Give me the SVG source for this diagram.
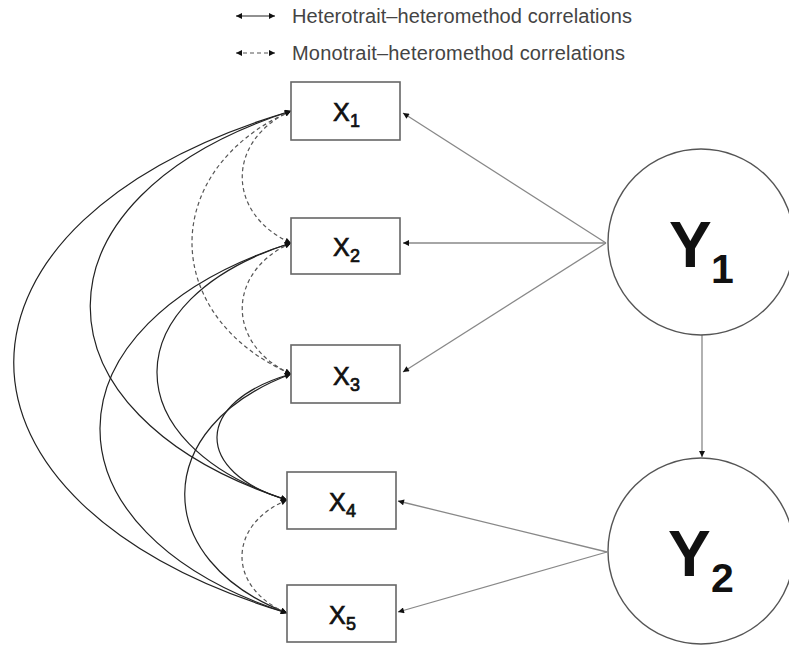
<svg xmlns="http://www.w3.org/2000/svg" width="789" height="646" viewBox="0 0 789 646">
<defs>
<marker id="ah" viewBox="0 0 10 10" refX="10" refY="5" markerWidth="8" markerHeight="6" markerUnits="userSpaceOnUse" orient="auto-start-reverse">
<path d="M0,0 L10,5 L0,10 z" fill="#111"/>
</marker>
<style>
.box{fill:#fff;stroke:#666;stroke-width:1.6}
.circ{fill:#fff;stroke:#555;stroke-width:1.4}
.lbl{font-family:"Liberation Sans",Arial,sans-serif;fill:#111;stroke:#111;stroke-width:0.7}
.big{font-family:"Liberation Sans",Arial,sans-serif;font-weight:bold;fill:#111}
.leg{font-family:"Liberation Sans",Arial,sans-serif;font-size:20px;fill:#444}
.load{fill:none;stroke:#888;stroke-width:1.3;marker-end:url(#ah)}
.het{fill:none;stroke:#222;stroke-width:1.2;marker-start:url(#ah);marker-end:url(#ah)}
.mono{fill:none;stroke:#555;stroke-width:1.2;stroke-dasharray:4 3;marker-start:url(#ah);marker-end:url(#ah)}
</style>
</defs>
<rect width="789" height="646" fill="#fff"/>
<g id="legend">
<path class="het" d="M236,16 L275,16"/>
<text class="leg" x="292" y="23" textLength="340">Heterotrait–heteromethod correlations</text>
<path class="mono" d="M236,53 L275,53"/>
<text class="leg" x="292" y="60" textLength="333">Monotrait–heteromethod correlations</text>
</g>
<g id="connectors">
<path class="load" d="M606,243 L403,113"/>
<path class="load" d="M606,243 L403,243"/>
<path class="load" d="M606,243 L403,372"/>
<path class="load" d="M607,552 L398,501"/>
<path class="load" d="M607,552 L398,612"/>
<path class="load" d="M702,335 L702,457"/>
<path class="het" d="M291,111 C-78,221 -78,503 287,613"/>
<path class="het" d="M291,111 C24,197 24,414 287,500"/>
<path class="het" d="M291,243 C37,324 37,532 287,613"/>
<path class="het" d="M291,243 C113,300 113,443 287,500"/>
<path class="het" d="M291,374 C150,427 150,560 287,613"/>
<path class="het" d="M291,374 C193,402 193,472 287,500"/>
<path class="mono" d="M291,111 C159,169 159,316 291,374"/>
<path class="mono" d="M291,111 C226,140 226,214 291,243"/>
<path class="mono" d="M291,243 C226,272 226,345 291,374"/>
<path class="mono" d="M287,500 C227,525 227,588 287,613"/>
</g>
<g id="x1">
<rect class="box" x="291" y="82" width="109" height="58"/>
<text class="lbl" x="333" y="121" font-size="25">X</text>
<text class="lbl" x="350" y="127" font-size="18">1</text>
</g>
<g id="x2">
<rect class="box" x="291" y="218" width="109" height="56"/>
<text class="lbl" x="333" y="256" font-size="25">X</text>
<text class="lbl" x="350" y="262" font-size="18">2</text>
</g>
<g id="x3">
<rect class="box" x="291" y="345" width="109" height="58"/>
<text class="lbl" x="333" y="385" font-size="25">X</text>
<text class="lbl" x="350" y="391" font-size="18">3</text>
</g>
<g id="x4">
<rect class="box" x="287" y="472" width="109" height="57"/>
<text class="lbl" x="329" y="511" font-size="25">X</text>
<text class="lbl" x="346" y="517" font-size="18">4</text>
</g>
<g id="x5">
<rect class="box" x="287" y="585" width="109" height="57"/>
<text class="lbl" x="329" y="624" font-size="25">X</text>
<text class="lbl" x="346" y="630" font-size="18">5</text>
</g>
<g id="Y1">
<circle class="circ" cx="701" cy="242" r="93"/>
<text class="big" x="669" y="267" font-size="64">Y</text>
<text class="big" x="711" y="283" font-size="41">1</text>
</g>
<g id="Y2">
<circle class="circ" cx="701" cy="551" r="93"/>
<text class="big" x="668" y="576" font-size="64">Y</text>
<text class="big" x="711" y="592" font-size="41">2</text>
</g>
</svg>
